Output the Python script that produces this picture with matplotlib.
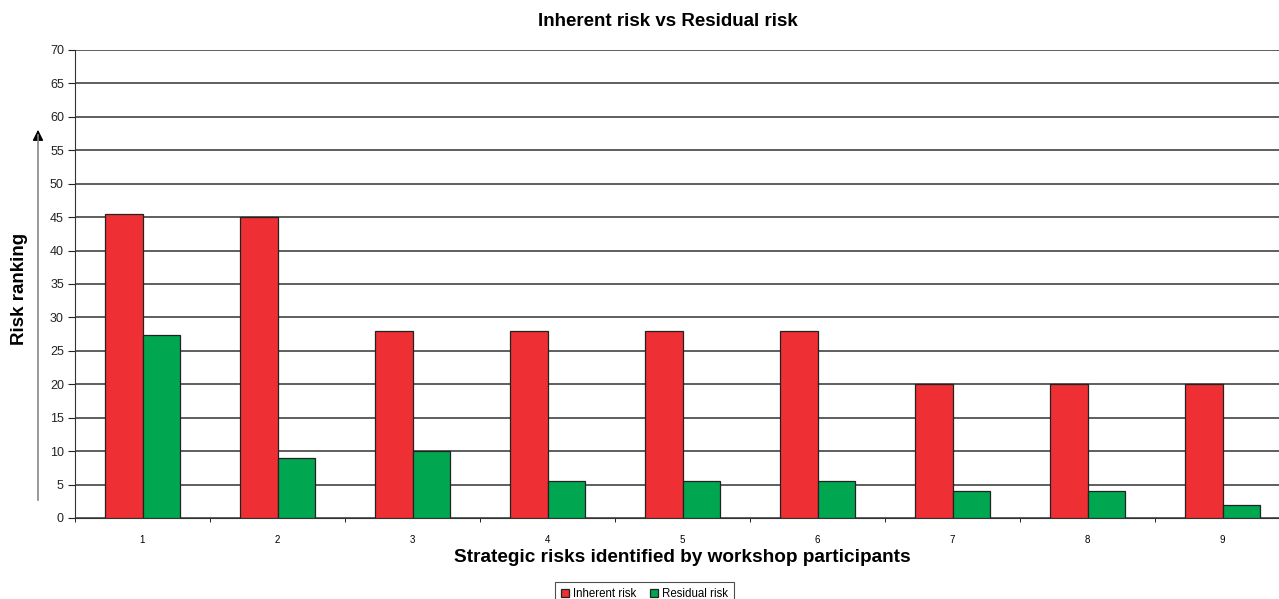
import numpy as np
import matplotlib.pyplot as plt

plt.rcParams['font.family'] = ['Liberation Sans', 'DejaVu Sans']

# Data
categories = ['1', '2', '3', '4', '5', '6', '7', '8', '9']
inherent_risk = [45.5, 45, 28, 28, 28, 28, 20, 20, 20]
residual_risk = [27.4, 9, 10, 5.6, 5.6, 5.6, 4, 4, 2]

RED = '#EE3035'
GREEN = '#00A650'

fig = plt.figure(figsize=(12.79, 5.99), dpi=100)
# axes runs off the right edge like the original
ax = fig.add_axes([75 / 1279, 81 / 599, 1215 / 1279, 468 / 599])

x = np.arange(len(categories))
w = 0.28
ax.bar(x - w / 2, inherent_risk, w, color=RED, edgecolor='#222222',
       linewidth=0.9, label='Inherent risk', zorder=3)
ax.bar(x + w / 2, residual_risk, w, color=GREEN, edgecolor='#222222',
       linewidth=0.9, label='Residual risk', zorder=3)

ax.set_xlim(-0.5, len(categories) - 0.5)
ax.set_ylim(0, 70)
ax.set_yticks(np.arange(0, 71, 5))
ax.yaxis.grid(True, color='#333333', linewidth=1.1, zorder=0)
ax.set_axisbelow(True)

ax.set_xticks(x)
ax.set_xticklabels(categories, fontsize=7)
ax.set_xticks(np.arange(-0.5, len(categories), 1), minor=True)
ax.tick_params(axis='x', which='major', length=0, pad=12)
ax.tick_params(axis='x', which='minor', length=3, direction='out')
ax.tick_params(axis='y', length=5, labelsize=9, pad=3, colors='#222222')

for side in ['top', 'right']:
    ax.spines[side].set_visible(False)
ax.spines['left'].set_color('#333333')
ax.spines['bottom'].set_color('#333333')

ax.set_xlabel('Strategic risks identified by workshop participants',
              fontsize=13.7, fontweight='bold', labelpad=3)
fig.text(668 / 1279, 1 - 22 / 599, 'Inherent risk vs Residual risk',
         ha='center', va='center', fontsize=13.5, fontweight='bold')
fig.text(20 / 1279, 1 - 289 / 599, 'Risk ranking', rotation=90,
         ha='center', va='center', fontsize=13.5, fontweight='bold')

# upward arrow beside the y axis
fig.add_artist(plt.Line2D([38 / 1279, 38 / 1279], [1 - 500 / 599, 1 - 135 / 599],
                          color='#888888', linewidth=1.2))
ax.annotate('', xy=(38 / 1279, 1 - 127 / 599), xytext=(38 / 1279, 1 - 140 / 599),
            xycoords='figure fraction', textcoords='figure fraction',
            arrowprops=dict(arrowstyle='-|>', color='black', lw=1.0,
                            mutation_scale=16))

leg = fig.legend(loc='upper left', bbox_to_anchor=(555 / 1279, 1 - 582 / 599),
                 ncol=2, fontsize=8.3, frameon=True, fancybox=False,
                 handlelength=0.7, handleheight=0.7, handletextpad=0.35,
                 columnspacing=1.2, borderpad=0.5, borderaxespad=0)
leg.get_frame().set_edgecolor('#222222')
leg.get_frame().set_linewidth(0.8)
for t in leg.get_texts():
    t.set_fontstretch('expanded')

fig.savefig('out.png', dpi=100)
